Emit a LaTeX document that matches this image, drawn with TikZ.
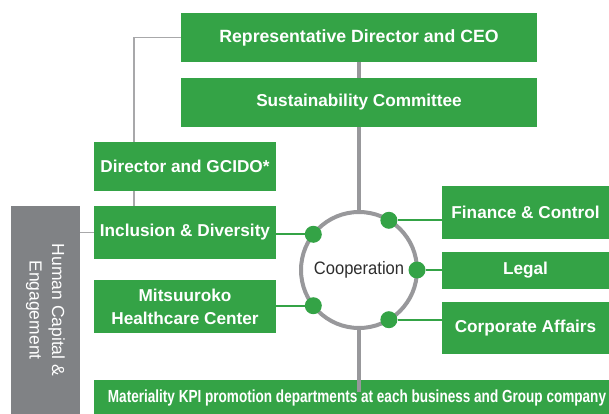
\documentclass[tikz,border=0pt]{standalone}
\usepackage{fontspec}
\setmainfont{Liberation Sans}
\newfontfamily\condfont{Liberation Sans}[FakeStretch=0.775]
\newfontfamily\coopfont{Liberation Sans}[FakeStretch=0.92]
\definecolor{mgreen}{RGB}{52,163,70}
\definecolor{mgraybox}{RGB}{128,130,133}
\definecolor{mgrayline}{RGB}{152,152,155}
\definecolor{mthin}{RGB}{168,168,170}
\definecolor{mtext}{RGB}{45,45,45}
\tikzset{
  gbox/.style={fill=mgreen, text=white, font=\fontsize{17.2}{20}\selectfont\bfseries, inner sep=0pt, outer sep=0pt, align=center},
  graybox/.style={fill=mgraybox, text=white, inner sep=0pt, outer sep=0pt},
  thickline/.style={draw=mgrayline, line width=4pt},
  thinline/.style={draw=mthin, line width=1.5pt},
  gline/.style={draw=mgreen, line width=2pt},
  gdot/.style={circle, fill=mgreen, minimum size=17pt, inner sep=0pt},
}
\begin{document}
\begin{tikzpicture}[x=1pt,y=-1pt]
\useasboundingbox (0,0) rectangle (609,414);
% boxes
\node[gbox, minimum width=356pt, minimum height=49pt, font=\fontsize{17.7}{20}\selectfont\bfseries] (ceo) at (359,37.5) {Representative Director and CEO};
\node[gbox, minimum width=356pt, minimum height=49pt] (sust) at (359,102.5) {Sustainability Committee};
\node[gbox, minimum width=182pt, minimum height=49pt] (dir) at (185,166.5) {Director and GCIDO*};
\node[gbox, minimum width=182pt, minimum height=53pt] (incl) at (185,232.5) {Inclusion \& Diversity};
\node[gbox, minimum width=182pt, minimum height=53pt, font=\fontsize{17.2}{23}\selectfont\bfseries] (mits) at (185,306.5) {Mitsuuroko\\Healthcare Center};
\node[graybox, minimum width=69pt, minimum height=208pt] (hce) at (45.5,310) {};
\node[text=white, rotate=-90, align=center, font=\fontsize{17.5}{22.5}\selectfont] (hcetext) at (hce.center) {Human Capital \&\\Engagement};
\node[gbox, minimum width=167pt, minimum height=53pt] (fin) at (525.5,212.5) {Finance \& Control};
\node[gbox, minimum width=167pt, minimum height=37pt] (legal) at (525.5,270.5) {Legal};
\node[gbox, minimum width=167pt, minimum height=52pt] (corp) at (525.5,328) {Corporate Affairs};
\node[gbox, minimum width=515pt, minimum height=34pt] (mat) at (351.5,397) {};
\node[text=white, inner sep=0pt, font=\fontsize{17.5}{20}\condfont\bfseries] (mattext) at (357,397.5) {Materiality KPI promotion departments at each business and Group company};
% cooperation circle
\node[circle, draw=mgrayline, line width=4pt, minimum size=116pt, inner sep=0pt, outer sep=0pt, text=mtext, font=\fontsize{18}{20}\coopfont] (coop) at (359,270) {Cooperation};
% gray thick lines
\coordinate (matin) at (359,392);
\draw[thickline] (ceo.south) -- (sust.north);
\draw[thickline] (sust.south) -- (coop.north);
\draw[thickline] (coop.south) -- (matin);
% thin gray lines
\coordinate (k) at (134,166);
\draw[thinline] (ceo.west) -| (k |- dir.north);
\draw[thinline] (k |- dir.south) -- (k |- incl.north);
\draw[thinline] (hce.east |- incl.west) -- (incl.west);
% dots
\node[gdot] (d1) at (coop.142) {};
\node[gdot] (d2) at (coop.218) {};
\node[gdot] (d3) at (coop.59) {};
\node[gdot] (d4) at (coop.0) {};
\node[gdot] (d5) at (coop.301) {};
% green connectors
\draw[gline] (d1 -| incl.east) -- (d1);
\draw[gline] (d2 -| mits.east) -- (d2);
\draw[gline] (d3) -- (d3 -| fin.west);
\draw[gline] (d4) -- (d4 -| legal.west);
\draw[gline] (d5) -- (d5 -| corp.west);
\end{tikzpicture}
\end{document}
